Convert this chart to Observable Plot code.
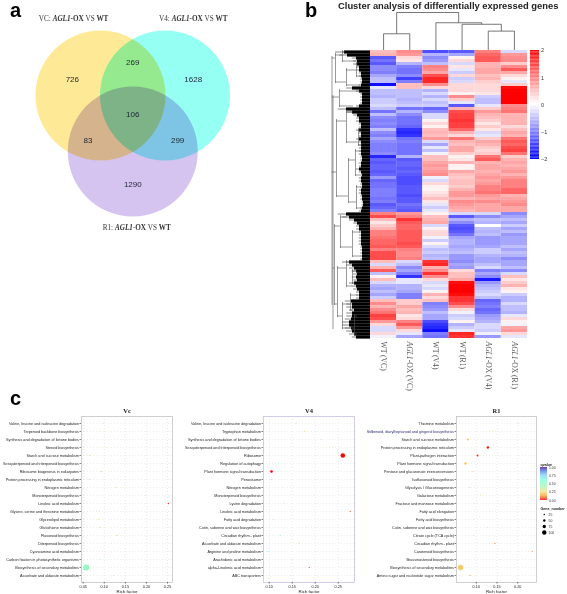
<!DOCTYPE html>
<html>
<head>
<meta charset="utf-8">
<script src="https://cdn.jsdelivr.net/npm/d3@7"></script>
<script src="https://cdn.jsdelivr.net/npm/@observablehq/plot@0.6"></script>
<style>
html,body{margin:0;padding:0;background:#fff;}
#fig{position:relative;width:567px;height:594px;overflow:hidden;background:#fff;font-family:"Liberation Sans",Arial,sans-serif;filter:blur(.4px);}
.letter{position:absolute;font-weight:bold;font-size:20px;line-height:20px;color:#000;}
</style>
</head>
<body>
<div id="fig"></div>
<script>
// ---------- panel a: Venn ----------
const vennNames = ["VC", "V4", "R1"];
const vennCx = [-0.497, 0.495, 0];
const vennCy = [0.862, 0.862, 0];
const vennFills = ["#FEE996", "#96FFF4", "#D6C4F0"];
const vennCounts = ["726", "269", "1628", "106", "83", "299", "1290"];
const vennCountX = [-0.93, 0, 0.93, 0, -0.69, 0.69, 0];
const vennCountY = [1.11, 1.37, 1.11, 0.57, 0.17, 0.17, -0.51];
const vennTitles = ["VC: AGL1-OX VS WT", "V4: AGL1-OX VS WT", "R1: AGL1-OX VS WT"];
const vennTitleX = [-0.91, 0.93, 0.06];
const vennTitleY = [2.05, 2.05, -1.17];

// ---------- panel b: heat map (96 rows, z-scores) ----------
const heatColumns = ["WT (VC)", "AGL1-OX (VC)", "WT (V4)", "WT (R1)", "AGL1-OX (V4)", "AGL1-OX (R1)"];
const heatWTVC = [.5,.6,-1.3,-1.1,-1.3,-.9,-.9,-1,-.7,-.5,-.5,-1.9,-.2,-.5,-.5,-.6,-.4,-.4,-.3,-.5,-1.1,-.5,-.9,-1,-.9,-1,-.5,-.9,-1,-.7,-.9,-1,
 -1,-1,-.9,-1.7,-1.2,-1.3,-1.2,-1.2,-1.3,-1.2,-.8,-1.2,-1.1,-1.1,-1,-1,-1,-1.1,-1,-1.3,-1.2,-1,1,1.4,.5,.2,.4,.6,1,1,1.1,1.2,
 1.2,1.3,1,1.4,1.4,1.4,.5,-.3,.6,1.3,-.5,.1,.5,-.3,-.6,-.7,-.5,-.7,-.4,.5,.9,.6,.9,1.1,1.5,1.4,.8,.3,-.3,-.3,.3,-.1];
const heatOXVC = [.9,.8,.3,.2,-.6,-1,-1.1,-1.1,-.9,-1.5,-1,.5,.5,-.5,-.5,-.5,-.6,-.5,-.4,-1.1,-.6,-.9,-1.1,-1.1,-1.1,-1.2,-1.6,-1.7,-1.6,-1.1,-1,-1.1,
 -1.1,-1.1,-1.1,-.6,-1.3,-1.2,-1.2,-1.3,-1.2,-1.3,-1.4,-1.4,-1.4,-1.3,-1.3,-1.3,-1.4,-1.3,-1.3,-1.1,-1.2,-1.3,.8,1,1.6,1.3,1.2,1.2,1.3,1.3,1.3,1.3,
 1.4,1.3,1,.9,.9,1,-.3,-.5,-.9,-.7,-1,-1.6,-.2,-.2,-.6,-.6,-.7,-1,-1,.4,.4,.7,.5,.6,.2,.3,1,1.3,.8,.3,-.2,-.7];
const heatWTV4 = [-1.4,-.6,-.9,-.8,-.5,1,.9,.7,1.4,1.7,1.7,.9,.3,-.6,-.3,-.6,-.3,-.5,-.4,-1.2,-.9,-.3,-.3,.1,.3,.1,.5,.6,.5,.8,-.3,-.7,
 -.2,-.5,-.1,.5,.5,.7,.8,.7,.8,.9,-.1,-.3,.3,.1,.1,.2,.3,.5,.2,-.2,-.4,-.2,.1,.5,.6,.7,-.3,.1,.3,.3,-.1,-.4,
 .1,-.3,-.5,-.4,-.6,-.5,1.6,1.7,.6,.9,1.6,.9,.3,-.3,-.2,-.3,.1,.6,.3,.5,-1,-.9,-.8,-.5,-.7,-.7,-1.4,-1.6,-1.7,-1.9,-1,-1.1];
const heatWTR1 = [-1.3,-.7,.1,.3,-.3,.2,-.2,-.4,.3,-.4,-.3,.3,.3,.3,.1,.9,.4,-.2,-1.3,.6,1.4,1.5,1.5,1.6,1.5,1.5,1.2,.6,.3,1.1,.6,.5,
 .7,.7,.4,.1,.2,.6,.1,.1,.7,.5,.4,.5,.5,.4,.6,.8,.8,.6,.9,.8,.7,.6,-.3,-1.3,-.6,-.9,-1.3,-1.4,-1.3,-1.1,-.7,-.6,
 -.6,-.7,-.6,-.5,-.8,-.8,-.9,-.7,-.8,.3,.5,.5,.7,1.9,2,2,2,1.9,1.6,1.6,1.4,.9,.3,-.1,-.4,-.3,.1,-.6,-.4,-.2,1.7,1.6];
const heatOXV4 = [1,1.2,1.3,1.3,.6,.6,.7,.7,.5,.6,.4,.3,.3,.3,.2,-.4,-.5,-.5,-.2,.4,.8,.6,.5,.4,.2,.4,.2,-.3,-.2,.4,.7,.6,
 .4,.3,.4,1.1,1.3,.6,.7,.7,.6,.7,.8,.7,.8,1,1,1.1,.8,.7,.9,.7,.7,.7,-.3,-.9,-.5,-.6,0,-.5,-.6,-.5,-.8,-.8,
 -.8,-.7,-.4,-.4,-.6,-.7,-.7,-.5,-.3,-1,-.7,-.9,-1.8,-.8,-.6,-.5,-.4,-.3,-.5,-1.2,-1.1,-1,-1.2,-1.1,-.8,-.7,-.6,-.3,-.3,-.4,-.1,-.8];
const heatOXR1 = [-.3,.8,.9,.9,.4,.9,1.3,.7,.3,.1,-.2,.4,1.9,2,2,2,2,2,.9,1,1.1,.6,.6,.6,.6,.3,.5,.7,.6,1.1,1.3,1.2,
 1.4,1.5,1.1,.4,.6,.7,.6,.7,.8,.6,.8,1,1,1,1.2,1.2,.6,.7,.8,.9,.7,.7,-.9,-.7,-.5,-.7,-.4,-.7,-.5,-.8,-.7,-.7,
 -.7,-.5,-.7,-.5,-.6,-.9,-.7,-.7,-.5,-.9,-.3,.5,.2,.4,.6,.2,.1,-.4,-.6,-.6,-.3,-.5,-.5,-.6,-.2,.3,.1,-.1,.7,.8,.3,-.2];
const heatSeries = [heatWTVC, heatOXVC, heatWTV4, heatWTR1, heatOXV4, heatOXR1];
const heatTicks = [-2, -1, 0, 1, 2];

// column dendrogram: merges in column-index units and relative height
const colMergeLeft  = [0,   4,    3,    2,    0.5];
const colMergeRight = [1,   5,    4.5,  3.75, 2.87];
const colHeightLeft = [0,   0,    0,    0,    0.44];
const colHeightRight= [0,   0,    0.51, 0.69, 0.73];
const colMergeHeight= [0.44,0.51, 0.69, 0.73, 1];

// row dendrogram: [merge height, row from, row to] and [row, height from, height to]
const rowBranchV = [[38.5,2,84],[37.5,15,92],[35,1,10],[28,0,3],[24,6,11],[14,4,8],[31,13,18],[34,23,48],[24,20,30],[22,36,50],[15,33,41],[14,45,52],[12,26,31],[36,58,84],[30,55,65],[18,60,68],[33,72,88],[24,70,78],[28,84,92],[20,81,86],[18,73,77],[16,88,94]];
const rowBranchH = [[2,38.5,35],[1,35,28],[10,35,24],[0,28,25],[3,28,14],[6,24,14],[11,24,10],[4,14,12],[8,14,9],[15,38.5,31],[13,31,10],[18,31,17],[40,38.5,34],[23,34,24],[48,34,22],[20,24,17],[30,24,12],[36,22,15],[50,22,14],[33,15,9],[41,15,10],[45,14,9],[52,14,8],[26,12,9],[31,12,8],[72,37.5,36],[58,36,30],[55,30,23],[65,30,18],[60,18,10],[68,18,9],[84,36,33],[72,33,24],[88,33,28],[70,24,20],[78,24,18],[84,28,20],[92,28,16],[81,20,12],[86,20,17],[73,18,13],[77,18,15],[88,16,13],[94,16,13]];
const rowLeafDepth = [25,22,13,12,12,10,10,8,8,7,7,8,17,10,7,7,7,7,10,23,17,12,10,10,8,8,10,8,8,10,8,8,
 8,8,8,7,7,8,8,10,8,7,8,8,7,7,8,8,7,7,6,6,7,8,23,20,15,12,10,10,8,8,8,8,
 8,7,7,7,7,7,20,17,15,13,12,13,12,15,13,12,10,10,10,18,17,17,15,17,17,18,20,20,18,17,15,13];

// ---------- panel c: KEGG enrichment ----------
const vcPaths = ["Valine, leucine and isoleucine degradation","Terpenoid backbone biosynthesis","Synthesis and degradation of ketone bodies","Steroid biosynthesis","Starch and sucrose metabolism","Sesquiterpenoid and triterpenoid biosynthesis","Ribosome biogenesis in eukaryotes","Protein processing in endoplasmic reticulum","Nitrogen metabolism","Monoterpenoid biosynthesis","Linoleic acid metabolism","Glycine, serine and threonine metabolism","Glycerolipid metabolism","Glutathione metabolism","Flavonoid biosynthesis","Diterpenoid biosynthesis","Cyanoamino acid metabolism","Carbon fixation in photosynthetic organisms","Biosynthesis of secondary metabolites","Ascorbate and aldarate metabolism"];
const vcRich = [.098,.09,.211,.105,.066,.235,.093,.0645,.128,.198,.252,.0887,.086,.09,.13,.117,.095,.09,.057,.122];
const vcQ = [.35,.3,.3,.3,.25,.3,.2,.5,.2,.3,.02,.3,.3,.2,.2,.35,.4,.45,.5,.3];
const vcGenes = [10,10,6,8,30,6,20,22,12,6,20,12,14,14,18,8,10,14,145,18];

const v4Paths = ["Valine, leucine and isoleucine degradation","Tryptophan metabolism","Synthesis and degradation of ketone bodies","Sesquiterpenoid and triterpenoid biosynthesis","Ribosome","Regulation of autophagy","Plant hormone signal transduction","Peroxisome","Nitrogen metabolism","Monoterpenoid biosynthesis","Lysine degradation","Linoleic acid metabolism","Fatty acid degradation","Cutin, suberine and wax biosynthesis","Circadian rhythm - plant","Ascorbate and aldarate metabolism","Arginine and proline metabolism","Arachidonic acid metabolism","alpha-Linolenic acid metabolism","ABC transporters"];
const v4Rich = [.158,.177,.213,.237,.26,.12,.105,.105,.128,.197,.132,.276,.11,.18,.124,.165,.098,.148,.187,.145];
const v4Q = [.22,.18,.45,.3,0,.6,0,.6,.45,.5,.55,.03,.5,.35,.45,.2,.55,.6,.04,.6];
const v4Genes = [12,10,10,8,105,10,55,14,10,6,10,14,10,10,16,12,8,10,16,10];

const r1Paths = ["Thiamine metabolism","Stilbenoid, diarylheptanoid and gingerol biosynthesis","Starch and sucrose metabolism","Protein processing in endoplasmic reticulum","Plant-pathogen interaction","Plant hormone signal transduction","Pentose and glucuronate interconversions","Isoflavonoid biosynthesis","Glycolysis / Gluconeogenesis","Galactose metabolism","Fructose and mannose metabolism","Fatty acid elongation","Fatty acid biosynthesis","Cutin, suberine and wax biosynthesis","Citrate cycle (TCA cycle)","Circadian rhythm - plant","Carotenoid biosynthesis","Brassinosteroid biosynthesis","Biosynthesis of secondary metabolites","Amino sugar and nucleotide sugar metabolism"];
const r1Rich = [.2,.139,.08,.128,.103,.074,.092,.224,.084,.11,.093,.133,.094,.127,.093,.145,.235,.157,.062,.085];
const r1Q = [.3,.25,.18,.02,.02,.2,.22,.65,.25,.25,.4,.3,.4,.4,.4,.08,.04,.45,.2,.18];
const r1Genes = [8,10,35,50,35,55,15,6,20,10,10,8,10,8,10,14,10,6,122,22];

const qStops = [0, .12, .25, .4, .6, .75, .9, 1];
const qColors = ["#FF0000","#F3A02E","#F6E38C","#A8F4B4","#7FFFD4","#87CEFA","#4169E1","#4B0082"];
const qTicks = [0, .25, .5, .75, 1];
const geneLegend = [25, 50, 75, 100];

// ---------- helpers ----------
const fig = document.getElementById("fig");
const SANS = '"Liberation Sans",Arial,sans-serif';
const SERIF = '"Liberation Serif","Times New Roman",serif';
const transparent = {background:"transparent", overflow:"visible"};
function place(el,left,top){el.style.position="absolute";el.style.left=left+"px";el.style.top=top+"px";fig.appendChild(el);return el;}
function letter(t,l,tp){const d=document.createElement("div");d.className="letter";d.textContent=t;d.style.left=l+"px";d.style.top=tp+"px";fig.appendChild(d);}
function markGene(svg,boldAll){
  svg.querySelectorAll("text").forEach(el=>{
    const s=el.textContent; if(!s.includes("AGL1"))return;
    el.textContent="";
    s.split(/(AGL1|-OX|WT)/).filter(Boolean).forEach(part=>{
      const t=document.createElementNS("http://www.w3.org/2000/svg","tspan");
      t.textContent=part;
      if(part==="AGL1")t.setAttribute("font-style","italic");
      if(boldAll&&(part==="AGL1"||part==="-OX"||part==="WT"))t.setAttribute("font-weight","bold");
      el.appendChild(t);
    });
  });
}

// ---------- panel a ----------
const vennCircles = vennNames.map((n,i)=>({n,x:vennCx[i],y:vennCy[i],f:vennFills[i]}));
const vennPlot = Plot.plot({
  width:290,height:260,margin:0,style:transparent,
  x:{domain:[-2.035,2.426],axis:null},
  y:{domain:[-1.677,2.323],axis:null},
  r:{type:"linear",domain:[0,1],range:[0,65]},
  marks:[
    ...vennCircles.map(c=>Plot.dot([c],{x:"x",y:"y",r:()=>1,fill:"f",mixBlendMode:"multiply"})),
    Plot.text(vennCounts,{x:(d,i)=>vennCountX[i],y:(d,i)=>vennCountY[i],text:d=>d,fontSize:8,fontFamily:SANS,fill:"#1c2430"}),
    Plot.text(vennTitles,{x:(d,i)=>vennTitleX[i],y:(d,i)=>vennTitleY[i],text:d=>d,fontSize:7.2,fontFamily:SERIF,fill:"#333"})
  ]
});
markGene(vennPlot,true);
place(vennPlot,0,0);
letter("a",10,0);

// ---------- panel b ----------
const title=document.createElement("div");
title.textContent="Cluster analysis of differentially expressed genes";
title.style.cssText="position:absolute;left:338px;top:0px;font-weight:bold;font-size:9.4px;line-height:12px;white-space:nowrap;color:#222;";
fig.appendChild(title);
letter("b",305,0);

const colLinks=[];
colMergeLeft.forEach((l,i)=>{
  const r=colMergeRight[i],h=colMergeHeight[i];
  colLinks.push({x1:l,y1:colHeightLeft[i],x2:l,y2:h},{x1:l,y1:h,x2:r,y2:h},{x1:r,y1:h,x2:r,y2:colHeightRight[i]});
});
place(Plot.plot({
  width:157,height:38,margin:0,style:transparent,
  x:{domain:[-.5,5.5],axis:null},y:{domain:[0,1],axis:null},
  marks:[Plot.link(colLinks,{x1:"x1",y1:"y1",x2:"x2",y2:"y2",stroke:"#555",strokeWidth:.8})]
}),370.3,12.3);

const rowIdx=d3.range(96);
const rowLeaves=rowLeafDepth.map((d,i)=>({i,d}));
const rowPlot=Plot.plot({
  width:40,height:288,margin:0,style:transparent,
  x:{domain:[40,0],axis:null},y:{domain:rowIdx,type:"band",padding:0,round:false,axis:null},
  marks:[
    Plot.ruleY(rowLeaves,{y:"i",x1:d=>d.d*1.4,x2:d=>d.d,stroke:"#666",strokeWidth:.8}),
    Plot.ruleY(rowLeaves,{y:"i",x1:d=>d.d+1,x2:0,stroke:"#000",strokeWidth:3.2}),
    Plot.ruleX(rowBranchV,{x:d=>d[0],y1:d=>d[1],y2:d=>d[2],stroke:"#555",strokeWidth:.6}),
    Plot.ruleY(rowBranchH,{y:d=>d[0],x1:d=>d[1],x2:d=>d[2],stroke:"#555",strokeWidth:.6})
  ]
});
place(rowPlot,330.3,50);

const heatCells=[];
heatSeries.forEach((s,c)=>s.forEach((v,r)=>heatCells.push({c:heatColumns[c],r,v})));
const heatPlot=Plot.plot({
  width:157,height:343,marginTop:0,marginLeft:0,marginRight:0,marginBottom:55,style:transparent,
  x:{domain:heatColumns,type:"band",padding:0,round:false,axis:null},
  y:{domain:rowIdx,type:"band",padding:0,round:false,axis:null},
  color:{type:"linear",domain:[-2,0,2],range:["#0000FF","#FFFFFF","#FF0000"]},
  marks:[
    Plot.cell(heatCells,{x:"c",y:"r",fill:"v"}),
    Plot.axisX({domain:heatColumns,anchor:"bottom",tickSize:0,tickPadding:3,tickRotate:90,fontSize:7.6,fontFamily:SERIF,fill:"#555",label:null})
  ]
});
markGene(heatPlot,false);
heatPlot.style.filter="blur(.6px)";
place(heatPlot,370.3,50);

const barSteps=d3.range(-2,2,.05);
place(Plot.plot({
  width:24,height:109,marginTop:0,marginBottom:0,marginLeft:0,marginRight:15,style:{...transparent},
  x:{domain:[0,1],axis:null},y:{domain:[-2,2],axis:null},
  color:{type:"linear",domain:[-2,0,2],range:["#0000FF","#FFFFFF","#FF0000"]},
  marks:[
    Plot.rect(barSteps,{x1:0,x2:1,y1:d=>d,y2:d=>d+.05,fill:d=>d}),
    Plot.axisY(heatTicks,{anchor:"right",tickSize:0,tickPadding:1.5,fontSize:5.5,fontFamily:SANS,label:null,fill:"#333"})
  ]
}),530,50);

// ---------- panel c ----------
letter("c",10,388);
const qScale={type:"linear",domain:qStops,range:qColors};
const rScale={type:"linear",domain:[0,25,100],range:[.35,.7,2.2]};
function enrich(paths,rich,q,genes,name,left,width,ml,xDomain,ticks,frameColor){
  const rows=paths.map((p,i)=>({p,x:rich[i],q:q[i],g:genes[i]}));
  const pl=Plot.plot({
    width,height:189,marginLeft:ml,marginRight:width-ml-(xDomain.px),marginTop:11,marginBottom:12,style:transparent,
    x:{domain:xDomain.d,axis:null},
    y:{domain:paths,type:"point",padding:.6,axis:null},
    color:qScale,r:rScale,
    marks:[
      Plot.gridX(ticks,{stroke:"#cfd3c8",strokeDasharray:"1 2",strokeWidth:.5,strokeOpacity:1}),
      Plot.gridY(paths,{stroke:"#d8dcd0",strokeDasharray:"1 2",strokeWidth:.5,strokeOpacity:1}),
      Plot.frame({stroke:frameColor,strokeWidth:.8}),
      Plot.dot(rows,{x:"x",y:"p",r:"g",fill:"q"}),
      Plot.axisY(paths,{anchor:"left",tickSize:1.5,tickPadding:1,fontSize:3.75,fontFamily:SANS,label:null,fill:d=>d.startsWith("Stilbenoid")?"#2a2a7a":"#222",strokeWidth:.5}),
      Plot.axisX(ticks,{anchor:"bottom",tickSize:1.5,tickPadding:1,fontSize:3.75,fontFamily:SANS,tickFormat:".2f",label:"Rich factor",labelAnchor:"center",labelArrow:"none",labelOffset:10,fill:"#222",strokeWidth:.5}),
      Plot.text([name],{frameAnchor:"top",dy:-8,text:d=>d,fontSize:6.5,fontFamily:SERIF,fontWeight:"bold",fill:"#222"})
    ]
  });
  pl.querySelectorAll('[aria-label="x-axis label"] text').forEach(t=>t.setAttribute("font-size","4.4"));
  place(pl,left,405);
}
enrich(vcPaths,vcRich,vcQ,vcGenes,"Vc",0,176,81,{d:[.046,.2618],px:91},[.05,.1,.15,.2,.25],"#c4c4c4");
enrich(v4Paths,v4Rich,v4Q,v4Genes,"V4",176,182,87,{d:[.0876,.2854],px:91},[.1,.15,.2,.25],"#c3c3e6");
enrich(r1Paths,r1Rich,r1Q,r1Genes,"R1",358,182,98,{d:[.0523,.2453],px:80},[.1,.15,.2],"#c4c4c4");

// legend of panel c
const qSteps=d3.range(0,1,.02);
place(Plot.plot({
  width:26,height:48,marginTop:12,marginBottom:3,marginLeft:0,marginRight:19,style:transparent,
  x:{domain:[0,1],axis:null},y:{domain:[0,1],axis:null},color:qScale,
  marks:[
    Plot.rect(qSteps,{x1:0,x2:1,y1:d=>d,y2:d=>d+.02,fill:d=>d}),
    Plot.axisY(qTicks,{anchor:"right",tickSize:0,tickPadding:1.5,fontSize:3.4,fontFamily:SANS,tickFormat:".2f",label:null,fill:"#333"}),
    Plot.text(["qvalue"],{frameAnchor:"top-left",dy:-4,text:d=>d,fontSize:3.6,fontWeight:"bold",fontFamily:SANS,fill:"#222"})
  ]
}),540,455);
place(Plot.plot({
  width:27,height:34,marginTop:9,marginBottom:3,marginLeft:0,marginRight:0,style:transparent,
  x:{domain:[0,1],axis:null},y:{domain:geneLegend,type:"point",padding:.1,axis:null},r:rScale,
  marks:[
    Plot.dot(geneLegend,{x:()=>.14,y:d=>d,r:d=>d,fill:"#000"}),
    Plot.text(geneLegend,{x:()=>.3,y:d=>d,text:d=>String(d),textAnchor:"start",fontSize:3.4,fontFamily:SANS,fill:"#333"}),
    Plot.text(["Gene_number"],{frameAnchor:"top-left",dy:-5,text:d=>d,fontSize:3.6,fontWeight:"bold",fontFamily:SANS,fill:"#222"})
  ]
}),540,503);
</script>
</body>
</html>
